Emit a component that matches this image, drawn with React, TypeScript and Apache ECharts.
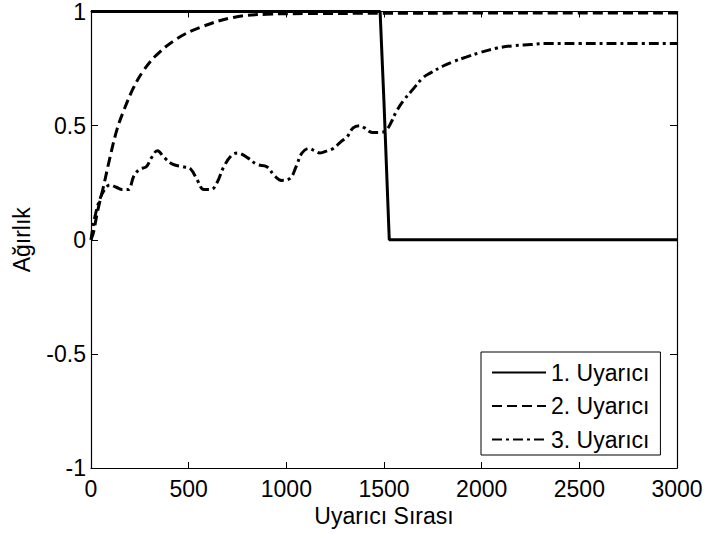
import React, { useEffect, useRef } from "react";
import * as echarts from "echarts";

const xTicks = [0, 500, 1000, 1500, 2000, 2500, 3000];
const yTicks = [-1, -0.5, 0, 0.5, 1];

const seriesNames = ["1. Uyarıcı", "2. Uyarıcı", "3. Uyarıcı"];

const s1X = [0, 1480, 1500, 1527, 3000];
const s1Y = [1, 1, 0.6, 0, 0];

const s2X = [0, 12, 35, 63, 97, 132, 165, 217, 268, 336, 439, 558, 729, 900, 1100, 1500, 2000, 2500, 3000];
const s2Y = [0.0, 0.03, 0.13, 0.23, 0.36, 0.48, 0.56, 0.665, 0.74, 0.81, 0.88, 0.93, 0.974, 0.988, 0.991, 0.992, 0.993, 0.993, 0.993];

const s3X = [0, 20, 46, 70, 97, 130, 160, 190, 220, 251, 283, 310, 340, 375, 420, 470, 510, 545, 578, 615, 645, 680, 720, 750, 800, 850, 900, 940, 975, 1020, 1050, 1080, 1115, 1145, 1172, 1210, 1240, 1280, 1310, 1342, 1375, 1400, 1440, 1480, 1511, 1540, 1562, 1600, 1649, 1700, 1736, 1800, 1854, 1920, 1992, 2080, 2161, 2250, 2330, 2500, 2700, 3000];
const s3Y = [0.0, 0.1, 0.18, 0.22, 0.24, 0.23, 0.22, 0.22, 0.28, 0.31, 0.32, 0.36, 0.39, 0.36, 0.33, 0.32, 0.31, 0.26, 0.22, 0.22, 0.25, 0.32, 0.37, 0.38, 0.36, 0.33, 0.32, 0.28, 0.26, 0.27, 0.32, 0.38, 0.4, 0.39, 0.38, 0.39, 0.4, 0.43, 0.45, 0.49, 0.5, 0.49, 0.47, 0.47, 0.48, 0.52, 0.56, 0.61, 0.66, 0.71, 0.73, 0.76, 0.78, 0.8, 0.82, 0.84, 0.85, 0.855, 0.86, 0.86, 0.86, 0.86];

const pairs = (xs: number[], ys: number[]) => xs.map((x, i) => [x, ys[i]]);

const FONT = "'Liberation Sans', Arial, sans-serif";

export default function App() {
  const ref = useRef<HTMLDivElement>(null);
  useEffect(() => {
    if (!ref.current) return;
    const chart = echarts.init(ref.current, undefined, { renderer: "svg" });
    const tickStyle = { show: true, inside: true, length: 6, lineStyle: { color: "#000", width: 1 } };
    const lineAxis = { show: true, onZero: false, lineStyle: { color: "#000", width: 1.2 } };
    const xBase = {
      type: "value" as const,
      min: xTicks[0],
      max: xTicks[xTicks.length - 1],
      interval: 500,
      axisLine: lineAxis,
      axisTick: tickStyle,
      splitLine: { show: false },
    };
    const yBase = {
      type: "value" as const,
      min: yTicks[0],
      max: yTicks[yTicks.length - 1],
      interval: 0.5,
      axisLine: lineAxis,
      axisTick: { ...tickStyle, length: 7 },
      splitLine: { show: false },
    };
    chart.setOption({
      animation: false,
      backgroundColor: "#fff",
      textStyle: { fontFamily: FONT },
      grid: { left: 91, right: 29, top: 10, bottom: 65, containLabel: false },
      xAxis: [
        {
          ...xBase,
          position: "bottom",
          axisLabel: {
            color: "#000",
            fontSize: 23,
            fontFamily: FONT,
            margin: 9,
            formatter: (v: number) => String(v),
          },
          name: "Uyarıcı Sırası",
          nameLocation: "middle",
          nameGap: 34,
          nameTextStyle: { color: "#000", fontSize: 23, fontFamily: FONT },
        },
        { ...xBase, position: "top", axisLabel: { show: false } },
      ],
      yAxis: [
        {
          ...yBase,
          position: "left",
          axisLabel: {
            color: "#000",
            fontSize: 23,
            fontFamily: FONT,
            margin: 5,
            formatter: (v: number) => String(v),
          },
          name: "Ağırlık",
          nameLocation: "middle",
          nameGap: 58,
          nameTextStyle: { color: "#000", fontSize: 23, fontFamily: FONT },
        },
        { ...yBase, position: "right", axisLabel: { show: false } },
      ],
      legend: {
        orient: "vertical",
        left: 481,
        top: 352,
        padding: [9, 11, 4, 10],
        itemGap: 10.5,
        itemWidth: 54,
        itemHeight: 14,
        borderColor: "#000",
        borderWidth: 1,
        backgroundColor: "#fff",
        itemStyle: { color: "transparent", borderWidth: 0, opacity: 0 },
        textStyle: { color: "#000", fontSize: 23, fontFamily: FONT },
        data: seriesNames,
      },
      series: [
        {
          name: seriesNames[0],
          type: "line",
          data: pairs(s1X, s1Y),
          symbol: "none",
          clip: false,
          lineStyle: { color: "#000", width: 3, type: "solid" },
          itemStyle: { color: "#000" },
          z: 3,
        },
        {
          name: seriesNames[1],
          type: "line",
          data: pairs(s2X, s2Y),
          symbol: "none",
          smooth: 0.4,
          lineStyle: { color: "#000", width: 3, type: [10, 5] },
          itemStyle: { color: "#000" },
          z: 2,
        },
        {
          name: seriesNames[2],
          type: "line",
          data: pairs(s3X, s3Y),
          symbol: "none",
          smooth: 0.4,
          lineStyle: { color: "#000", width: 3, type: [10, 4, 3, 4] },
          itemStyle: { color: "#000" },
          z: 2,
        },
      ],
    });
    return () => chart.dispose();
  }, []);
  return (
    <div
      ref={ref}
      style={{ position: "absolute", left: 0, top: 0, width: 706, height: 533, background: "#fff" }}
    />
  );
}
